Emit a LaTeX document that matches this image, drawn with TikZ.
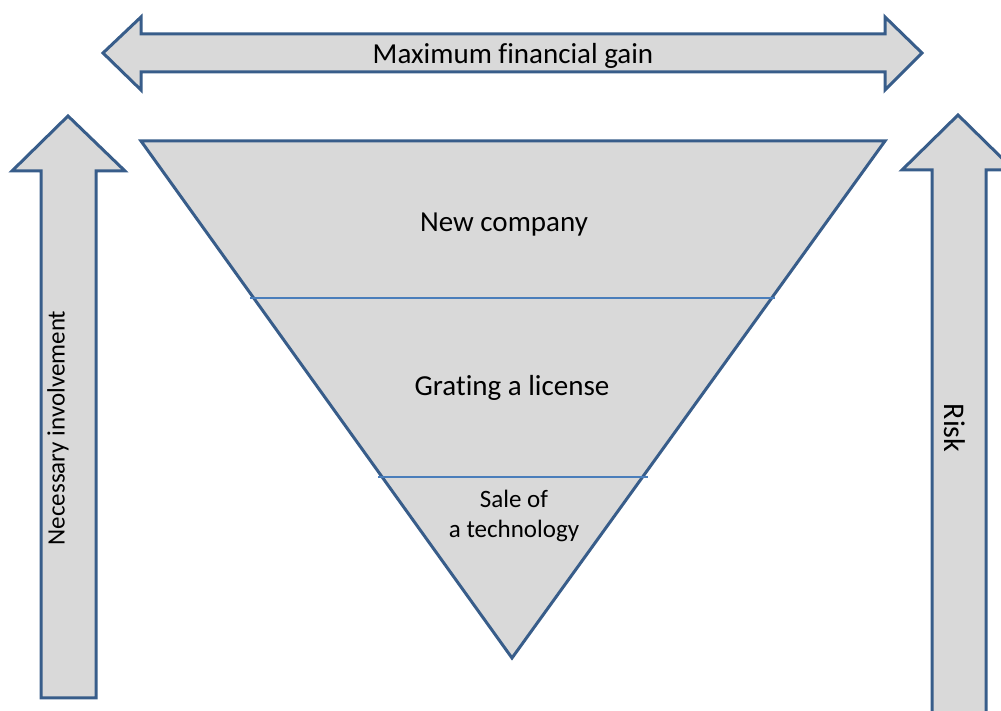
\documentclass[tikz,border=0pt]{standalone}
\usepackage{fontspec}
\setmainfont{Carlito}[Ligatures=NoCommon]
\usepackage{tikz}
\usetikzlibrary{positioning}
\definecolor{outline}{RGB}{56,93,138}
\definecolor{divider}{RGB}{74,126,187}
\definecolor{shade}{RGB}{217,217,217}

\begin{document}
\begin{tikzpicture}[x=1pt,y=1pt,
  block/.style={draw=outline,fill=shade,line width=3pt,line join=miter},
  txt/.style={font=\fontsize{29}{33}\selectfont,align=center},
  small/.style={font=\fontsize{25}{30}\selectfont,align=center}]
\clip (0,0) rectangle (1001,711);
% double arrow on top
\draw[block] (103,658) -- (141,694) -- (141,677) -- (885,677) -- (885,694) -- (922,658)
  -- (885,621) -- (885,639) -- (141,639) -- (141,621) -- cycle;
\node[txt] (gain) at (513,655) {Maximum financial gain};
% up arrows at both sides
\draw[block] (68,595) -- (125,540) -- (96,540) -- (96,13) -- (41,13) -- (41,540) -- (12,540) -- cycle;
\draw[block] (958,596) -- (1014,541) -- (986,541) -- (986,-20) -- (932,-20) -- (932,541) -- (902,541) -- cycle;
\node[small,rotate=90] (involve) at (58,283) {Necessary involvement};
\node[txt,font=\fontsize{30}{34}\selectfont,rotate=-90] (risk) at (955,283) {Risk};
% funnel
\draw[block] (141,570) -- (885,570) -- (512,53) -- cycle;
\draw[divider,line width=1.5pt] (250,413) -- (775,413);
\draw[divider,line width=1.5pt] (378,234) -- (648,234);
\node[txt] (company) at (504,486) {New company};
\node[txt] (license) at (512,323) {Grating a license};
\node[small] (sale) at (514,195) {Sale of\\a technology};
\end{tikzpicture}
\end{document}
